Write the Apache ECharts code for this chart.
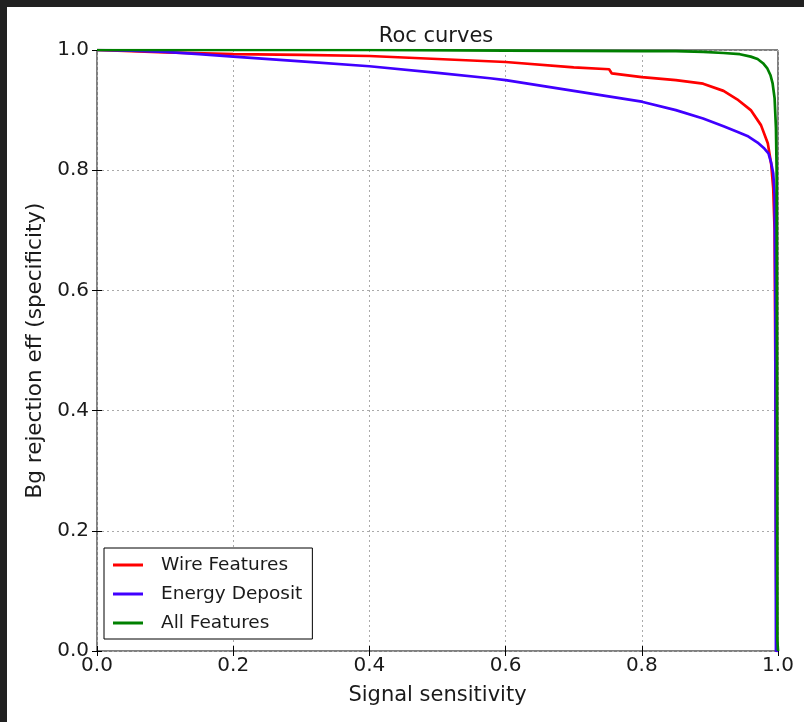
<!DOCTYPE html>
<html>
<head>
<meta charset="utf-8">
<script src="https://cdn.jsdelivr.net/npm/echarts@6/dist/echarts.min.js"></script>
<style>
html,body{margin:0;padding:0;background:#fff;}
#chart{width:804px;height:722px;}
</style>
</head>
<body>
<div id="chart"></div>
<script>
// ---- data ----
const titleText = 'Roc curves';
const xAxisName = 'Signal sensitivity';
const yAxisName = 'Bg rejection eff (specificity)';
const tickValues = [0, 0.2, 0.4, 0.6, 0.8, 1.0];
const seriesNames = ['Wire Features', 'Energy Deposit', 'All Features'];

const wireX = [0, 0.05, 0.1, 0.2, 0.3, 0.4, 0.5, 0.6, 0.7, 0.752, 0.756, 0.8, 0.85, 0.89, 0.92, 0.94, 0.96, 0.975, 0.985, 0.99, 0.993, 0.995, 0.996, 0.997, 0.998, 1.0];
const wireY = [1.0, 0.998, 0.996, 0.993, 0.992, 0.990, 0.985, 0.980, 0.971, 0.968, 0.961, 0.955, 0.950, 0.944, 0.932, 0.918, 0.900, 0.875, 0.845, 0.81, 0.77, 0.70, 0.50, 0.20, 0.0, 0.0];

const energyX = [0, 0.05, 0.1, 0.15, 0.2, 0.3, 0.4, 0.5, 0.577, 0.6, 0.7, 0.8, 0.85, 0.89, 0.92, 0.94, 0.955, 0.97, 0.98, 0.986, 0.99, 0.993, 0.995, 0.996, 0.997, 1.0];
const energyY = [1.0, 0.999, 0.997, 0.993, 0.989, 0.981, 0.973, 0.962, 0.953, 0.950, 0.932, 0.914, 0.900, 0.886, 0.873, 0.864, 0.857, 0.846, 0.836, 0.828, 0.812, 0.795, 0.76, 0.60, 0.0, 0.0];

const allX = [0, 0.4, 0.6, 0.8, 0.85, 0.89, 0.92, 0.944, 0.96, 0.97, 0.978, 0.984, 0.989, 0.992, 0.995, 0.997, 0.998, 0.9985, 0.999, 1.0];
const allY = [1.0, 1.0, 0.999, 0.998, 0.998, 0.997, 0.995, 0.993, 0.989, 0.985, 0.978, 0.970, 0.958, 0.945, 0.920, 0.870, 0.80, 0.40, 0.02, 0.0];

// ---- build ----
function zip(xs, ys) { return xs.map((x, i) => [x, ys[i]]); }
const colors = ['#ff0000', '#4000ff', '#008000'];
const seriesData = [zip(wireX, wireY), zip(energyX, energyY), zip(allX, allY)];

const FONT = 'DejaVu Sans';
const textColor = '#1a1a1a';
const fmt = v => v.toFixed(1);

function axisCommon(extra) {
  return Object.assign({
    type: 'value', min: 0, max: 1, interval: 0.2,
    axisLine: { show: false },
    axisTick: { show: true, inside: true, length: 5, lineStyle: { color: '#000', width: 1 } },
    splitLine: { show: false }
  }, extra);
}

const chart = echarts.init(document.getElementById('chart'), null, { renderer: 'canvas' });
chart.setOption({
  animation: false,
  backgroundColor: '#ffffff',
  title: {
    text: titleText, left: 431, top: 21, textAlign: 'center',
    textStyle: { fontFamily: FONT, fontSize: 21, fontWeight: 'normal', color: textColor }
  },
  grid: { left: 97, right: 26, top: 50, bottom: 71, show: true, borderColor: '#000', borderWidth: 1, backgroundColor: 'transparent' },
  legend: {
    orient: 'vertical', left: 104, top: 548,
    backgroundColor: '#fff', borderColor: '#000', borderWidth: 1, borderRadius: 0,
    padding: [7, 10, 6, 9], itemGap: 9, itemWidth: 30, itemHeight: 3,
    icon: 'rect',
    textStyle: { fontFamily: FONT, fontSize: 18.5, color: textColor, lineHeight: 20, padding: [0, 0, 0, 13] },
    data: seriesNames
  },
  xAxis: [
    axisCommon({
      position: 'bottom', name: xAxisName, nameLocation: 'middle', nameGap: 34,
      nameTextStyle: { fontFamily: FONT, fontSize: 21, color: textColor },
      axisLabel: { fontFamily: FONT, fontSize: 20, color: textColor, margin: 5, formatter: fmt },
      splitLine: { show: true, lineStyle: { color: '#aaaaaa', type: [2, 3], width: 1 } }
    }),
    axisCommon({ position: 'top', axisLabel: { show: false } })
  ],
  yAxis: [
    axisCommon({
      position: 'left', name: yAxisName, nameLocation: 'middle', nameGap: 48,
      nameTextStyle: { fontFamily: FONT, fontSize: 21.5, color: textColor },
      axisLabel: { fontFamily: FONT, fontSize: 20, color: textColor, margin: 8, formatter: fmt },
      splitLine: { show: true, lineStyle: { color: '#aaaaaa', type: [2, 3], width: 1 } }
    }),
    axisCommon({ position: 'right', axisLabel: { show: false } })
  ],
  graphic: [
    { type: 'rect', shape: { x: 0, y: 0, width: 804, height: 7 }, style: { fill: '#212121' }, z: 100, silent: true },
    { type: 'rect', shape: { x: 0, y: 0, width: 7, height: 722 }, style: { fill: '#212121' }, z: 100, silent: true }
  ],
  series: seriesNames.map((name, i) => ({
    name: name, type: 'line', data: seriesData[i],
    xAxisIndex: 0, yAxisIndex: 0,
    showSymbol: false, symbol: 'none', clip: true,
    color: colors[i],
    lineStyle: { color: colors[i], width: 2.7 },
    z: 2 + i
  }))
});
</script>
</body>
</html>
